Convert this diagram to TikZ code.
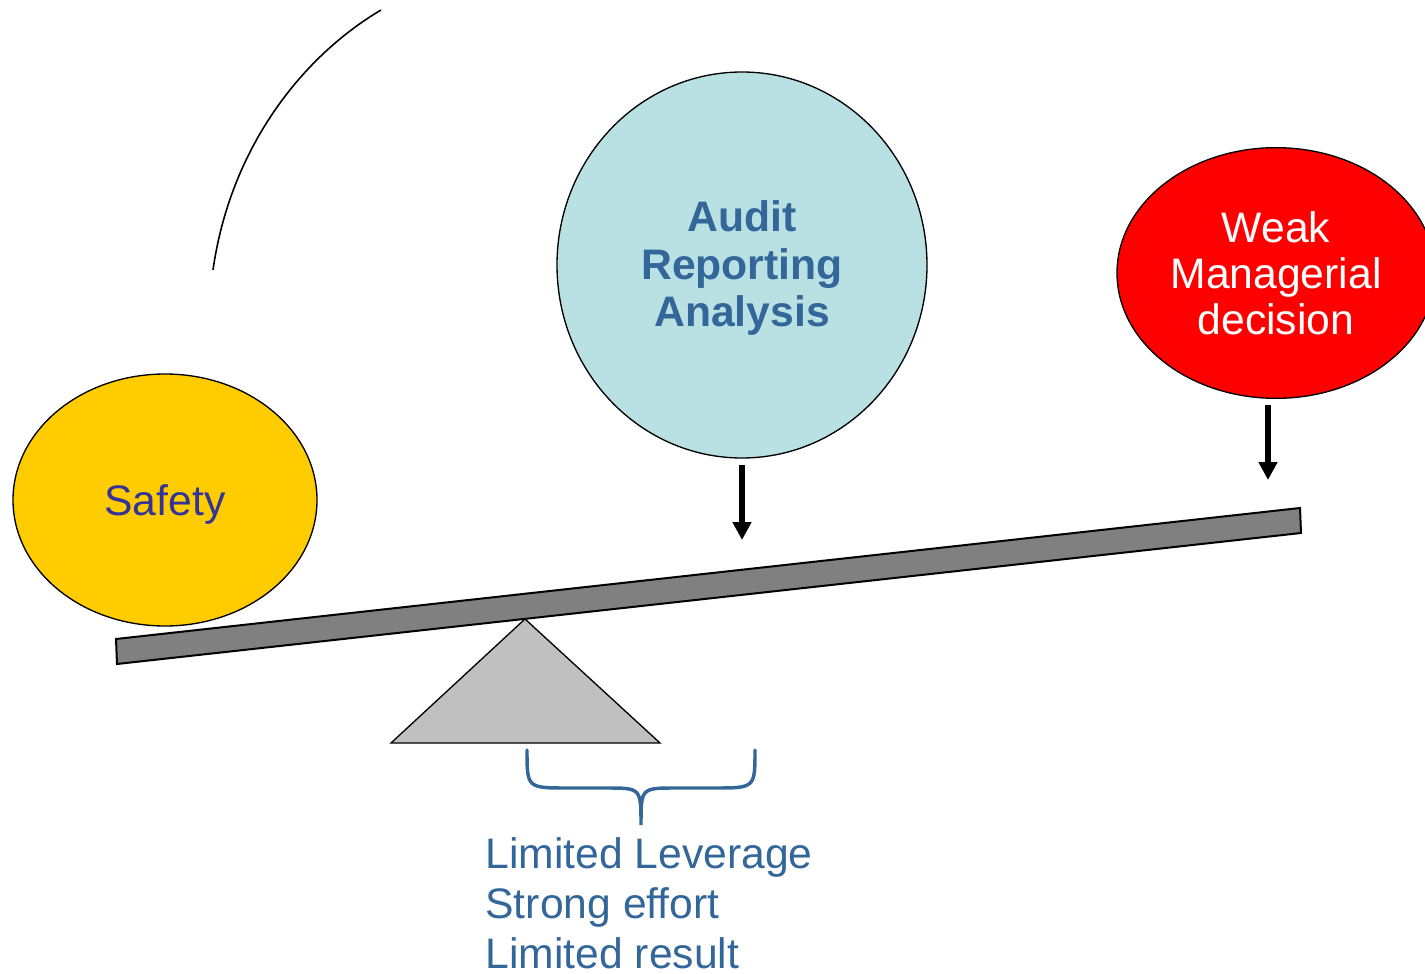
\documentclass[tikz,border=0pt]{standalone}
\usepackage{fontspec}
\setmainfont{Liberation Sans}
\usetikzlibrary{shapes.geometric,arrows.meta}

\definecolor{safetyfill}{HTML}{FFCC00}
\definecolor{auditfill}{HTML}{B9E0E3}
\definecolor{weakfill}{HTML}{FF0000}
\definecolor{safetytext}{HTML}{333399}
\definecolor{audittext}{HTML}{336699}
\definecolor{beamgray}{HTML}{808080}
\definecolor{pivotgray}{HTML}{C0C0C0}

\tikzset{every picture/.style={line width=0.75pt}}
\tikzset{
  weight/.style={ellipse, draw=black, line width=1pt, inner sep=0pt, outer sep=0pt,
    align=center, font=\fontsize{32}{34.5}\selectfont},
  push/.style={line width=4.5pt, -{Triangle[width=13.5pt,length=13.5pt]}, shorten <=5.25pt}
}

\begin{document}
\begin{tikzpicture}[x=0.75pt,y=0.75pt,yscale=-1,xscale=1]
\useasboundingbox (0,0) rectangle (1425,974);

%Curve Lines
\draw [line width=1.2pt]  (381,10) .. controls (300,58) and (230,150) .. (213,270) ;

%Shape: Triangle
\draw [fill=pivotgray, line width=1pt]  (525,619) -- (660,743) -- (391,743) -- cycle ;
%Shape: Beam
\draw [fill=beamgray, line width=1.5pt]  (116,639) -- (1300,508) -- (1301,533) -- (117,664) -- cycle ;

%Shape: Ellipse
\node [weight, fill=safetyfill, text=safetytext, text depth=0pt, minimum width=228pt, minimum height=189pt] (safety) at (165,500) {Safety};
%Shape: Ellipse
\node [weight, fill=auditfill, minimum width=277.5pt, minimum height=289.5pt] (audit) at (742,265) {};
% Text Node
\node [align=center, inner sep=0pt, text=audittext, font=\fontsize{32}{35.5}\selectfont\bfseries] (auditlabel) at (742,268) {Audit\\Reporting\\Analysis};
%Shape: Ellipse
\node [weight, fill=weakfill, text=white, minimum width=238.5pt, minimum height=188pt] (weak) at (1276,273) {Weak\\Managerial\\decision};

%Arrows
\coordinate (auditpush) at (742,540);
\coordinate (weakpush) at (1268,480);
\draw [push]  (audit.south) -- (auditpush) ;
\draw [push]  (weak.south -| weakpush) -- (weakpush) ;

%Brace
\draw [audittext, line width=2.6pt, line cap=round]  (527,750) .. controls (527,788) .. (568,788) -- (606,788) .. controls (641,788) .. (641,825) .. controls (641,788) .. (676,788) -- (714,788) .. controls (755,788) .. (755,750) ;

% Text Node
\node [anchor=north west, inner sep=0pt, align=left, text=audittext, font=\fontsize{32}{37.5}\selectfont] (leverage) at (485,837) {Limited Leverage\\Strong effort\\Limited result};

\end{tikzpicture}
\end{document}
